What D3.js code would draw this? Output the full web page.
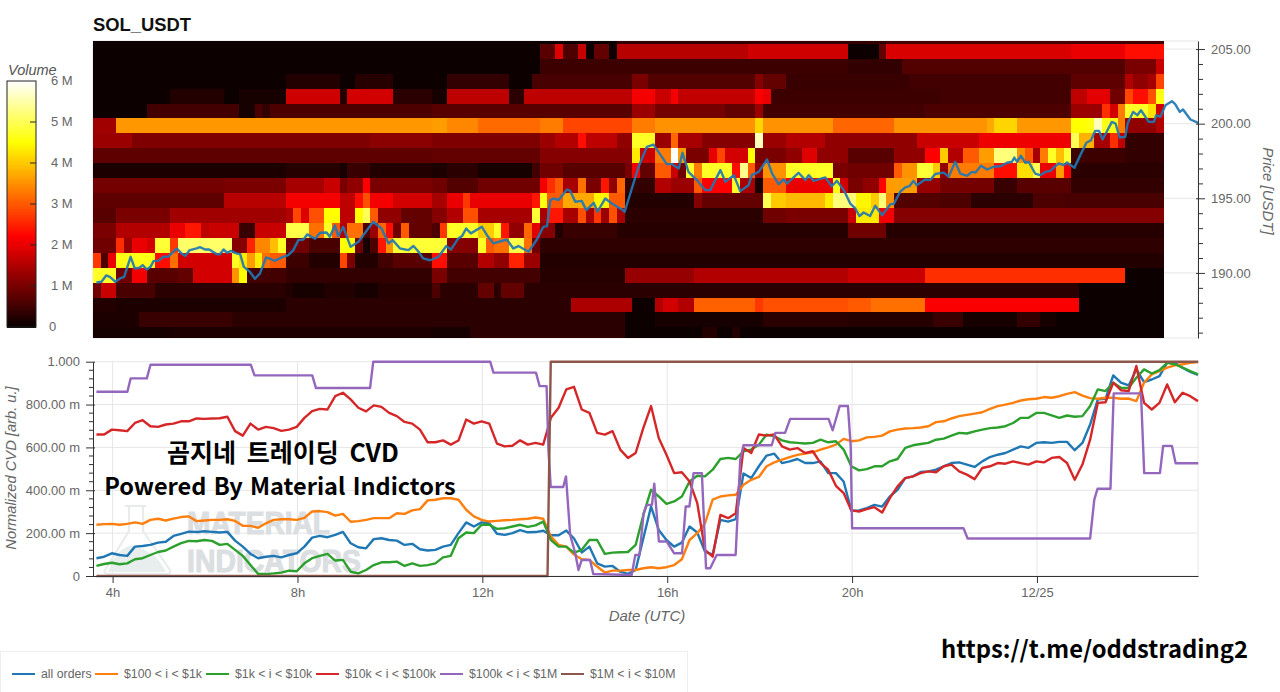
<!DOCTYPE html>
<html>
<head>
<meta charset="utf-8">
<script src="https://cdn.jsdelivr.net/npm/d3@7"></script>
<style>
  html, body { margin: 0; padding: 0; background: #fff; }
  svg { display: block; }
  text { font-family: "Liberation Sans", Arial, sans-serif; }
</style>
</head>
<body>
<svg id="chart" width="1280" height="692"></svg>
<script>
// Volume heatmap: one list per price bin, top to bottom, each as [columns, volume in M]
const binBottoms = [205.35, 204.35, 203.35, 202.35, 201.35, 200.35, 199.35, 198.35, 197.35, 196.35, 195.35,
    194.35, 193.35, 192.35, 191.35, 190.35, 189.35, 188.35, 187.35, 186.35, 185.35];
const heatStartHour = 3.576;
const heatStepHours = 1 / 6;

const volTop = [[68,.04],[35,.35],[36,.5]];
const vol205 = [[58,.04],[2,.7],[1,1.9],[2,.6],[1,1.7],[1,.05],[2,.8],[1,.05],[17,1.55],[13,1.75],[4,.05],[1,.8],[24,1.85],[7,2.0],[5,2.3]];
const vol204 = [[58,.04],[40,.45],[7,.35],[29,.65],[4,1.0],[1,1.7]];
const vol203 = [[25,.04],[7,.2],[2,.05],[5,.25],[7,.05],[8,.35],[3,.05],[13,.55],[2,1.0],[14,.65],[1,1.1],[3,.8],[16,.4],[21,.5],[7,.75],[1,1.5],[2,1.2],[1,1.4],[1,2.8]];
const vol202 = [[10,.04],[7,.2],[2,.05],[6,.12],[7,1.75],[1,.2],[6,1.8],[5,.3],[2,.12],[8,1.6],[2,.3],[14,1.6],[3,2.1],[2,1.7],[1,2.1],[10,1.65],[1,2.15],[1,2.0],[22,.45],[17,.5],[2,1.6],[3,1.95],[2,.9],[1,2.8],[2,2.3],[1,2.9],[1,4.6]];
const vol201 = [[7,.04],[12,.5],[2,.1],[1,.55],[1,.35],[21,.6],[26,.7],[3,1.3],[9,.95],[4,.8],[1,1.3],[21,.5],[19,.6],[4,1.3],[1,2.6],[1,1.8],[1,3.3],[3,4.7],[1,4.2],[1,1.8]];
const vol200 = [[3,1.35],[41,3.55],[2,3.6],[4,3.4],[8,3.15],[3,3.3],[9,2.8],[3,3.3],[13,3.5],[1,4.1],[9,3.5],[8,3.1],[12,3.5],[1,3.7],[3,4.1],[7,3.55],[2,4.5],[1,4.6],[1,5.6],[2,4.6],[1,3.3],[4,1.2],[1,1.5]];
const vol199 = [[5,1.3],[31,1.05],[8,1.15],[14,1.05],[2,1.3],[3,1.5],[1,2.3],[4,1.6],[2,1.2],[3,4.7],[2,1.3],[1,3.1],[3,1.4],[7,1.1],[1,5.6],[3,1.3],[5,1.5],[3,1.2],[9,1.2],[8,1.7],[12,2.05],[1,5],[2,3.8],[2,1.4],[1,2.6],[1,1.6],[5,.35]];
const vol198 = [[44,.75],[14,.8],[12,1.1],[1,4.3],[2,1.7],[2,3.3],[1,6],[1,3.6],[3,1.0],[1,2.0],[1,2.8],[3,1.8],[1,4.5],[4,1.0],[2,1.2],[2,1.9],[4,1.2],[6,.7],[4,1.2],[2,2.2],[1,4.0],[2,1.5],[2,3.0],[2,3.6],[3,5.2],[1,3.5],[1,3.0],[1,1.4],[1,3.3],[1,4.7],[1,3.9],[1,4.8],[7,.45],[5,.35]];
const vol197 = [[25,.15],[7,.25],[1,.1],[3,.4],[8,.2],[2,.15],[4,.3],[7,.1],[1,.5],[3,.9],[8,.7],[1,1.0],[1,2.1],[2,.8],[2,3],[1,1.7],[1,.9],[1,4.7],[1,3.3],[4,4.7],[1,2.3],[1,5.3],[1,3],[1,1.2],[3,3.5],[6,4.7],[2,1.0],[6,.9],[1,3.0],[2,3.5],[2,4.8],[1,4.0],[1,1.2],[6,3.3],[3,2.3],[2,4.2],[1,5],[2,2.0],[1,3.6],[1,2.1],[12,.3]];
const vol196 = [[17,.95],[8,1.0],[5,1.4],[2,1.7],[1,1.0],[2,1.2],[1,2.2],[8,1.0],[2,.9],[4,.65],[8,.9],[1,2.1],[1,2.6],[1,3.0],[2,1.4],[1,3.2],[2,1.0],[1,2.4],[1,1.2],[1,3.1],[4,.35],[2,1.5],[3,1.3],[1,3.0],[4,2.2],[1,4.7],[2,1.4],[1,.1],[3,3.0],[6,2.0],[1,4.6],[1,1.8],[2,1.0],[2,1.2],[1,2.2],[4,3.6],[3,1.25],[7,.95],[3,.4],[7,.7],[12,.35]];
const vol195 = [[17,.75],[8,1.55],[7,2.1],[2,1.6],[1,2.3],[1,2.9],[3,2.1],[5,1.8],[2,1.4],[2,2.0],[1,2.7],[8,2.0],[1,2.4],[1,4.6],[2,3.0],[4,3.7],[2,4.4],[2,3.0],[9,.2],[1,1.1],[8,.8],[1,5.0],[2,4.0],[5,3.85],[1,4.3],[3,5.2],[2,4.4],[1,4.0],[1,5.2],[1,3.5],[6,.65],[4,.6],[8,.3],[4,.6],[13,.55]];
const vol194 = [[3,.7],[7,1.0],[15,1.35],[1,1.5],[1,2.8],[1,1.9],[2,2.9],[2,4.5],[2,1.6],[1,4.5],[1,5],[1,3],[3,1.2],[4,.8],[2,1.1],[2,1.5],[2,2.9],[7,1.4],[1,4.8],[1,1.4],[2,2.4],[2,1.4],[1,2.9],[1,1.4],[1,2.7],[1,1.3],[1,2.9],[1,1.4],[18,.3],[3,.9],[8,1.0],[1,1.7],[3,4.3],[2,2.1],[35,1.1]];
const vol193 = [[3,1.0],[7,1.5],[2,2.0],[2,2.4],[1,1.6],[4,1.7],[2,.4],[4,1.7],[3,4.9],[2,3.2],[1,4.7],[1,3],[1,1.5],[2,3.2],[1,.6],[1,1.3],[1,3.1],[1,2.3],[1,.9],[1,3],[3,.8],[1,.6],[1,2.7],[4,4.7],[2,4.0],[1,4.7],[1,2.4],[2,1.2],[1,3.1],[1,1.9],[2,1.1],[1,.2],[7,.4],[30,.25],[5,.9],[36,.25]];
const vol192 = [[3,.9],[1,2.6],[1,1.3],[2,2.0],[1,1.8],[2,4.8],[1,2.7],[7,5.1],[2,1.1],[1,2.5],[2,3.4],[1,3.9],[1,4.7],[3,.9],[4,.55],[2,4.5],[1,.9],[1,.1],[1,.6],[1,2.4],[1,3.5],[7,4.8],[4,1.1],[1,4.7],[1,3.0],[2,3.2],[2,4.9],[1,3.2],[1,.9],[81,.33]];
const vol191 = [[1,2.7],[1,.6],[1,2.0],[5,4.6],[2,2.3],[1,3.2],[7,1.8],[1,4.7],[1,4.3],[1,3.6],[1,4.3],[1,3.2],[2,3.0],[3,.45],[4,.2],[1,2.8],[1,1.0],[3,.2],[2,.5],[5,.7],[2,2.3],[4,.7],[2,1.5],[2,1.2],[2,2.5],[2,1.3],[81,.22]];
const vol190 = [[3,4.7],[2,.9],[2,2.1],[4,.7],[2,.8],[5,1.8],[1,3.5],[1,4.5],[5,.5],[19,.35],[2,1.0],[12,.5],[11,.25],[9,1.25],[20,1.5],[10,1.7],[26,2.6],[5,.05]];
const vol189 = [[1,.9],[2,1.7],[5,.55],[17,.28],[1,.2],[4,.08],[4,.2],[3,.08],[7,.25],[1,.6],[5,.3],[2,.8],[1,.3],[3,.8],[72,.3],[11,.05]];
const vol188 = [[3,.2],[22,.15],[19,.3],[18,.3],[8,1.45],[3,.05],[1,1.5],[2,1.8],[2,1.5],[8,3.05],[1,2.7],[11,2.9],[3,3.0],[7,3.2],[20,2.15],[11,.05]];
const vol187 = [[6,.15],[12,.4],[26,.3],[25,.3],[4,.05],[14,.1],[11,.28],[11,.25],[4,.4],[7,.1],[3,.35],[2,.1],[14,.05]];
const vol186 = [[10,.08],[34,.14],[5,.08],[20,.28],[10,.05],[2,.2],[2,.05],[1,.2],[55,.05]];

// Price line
const priceHours = [3.65,3.76,3.86,3.94,4.06,4.16,4.25,4.39,4.48,4.58,4.65,4.74,4.82,4.89,4.99,5.10,5.20,5.29,5.39,5.49,5.57,5.67,5.82,5.89,6.00,6.09,6.25,6.32,6.40,6.48,6.56,6.68,6.76,6.84,6.97,7.08,7.19,7.32,7.44,7.51,7.66,7.80,7.91,8.02,8.13,8.21,8.38,8.49,8.63,8.70,8.81,8.88,8.99,9.15,9.32,9.64,9.82,9.97,10.06,10.22,10.40,10.51,10.62,10.72,10.87,
    11.05,11.22,11.32,11.48,11.56,11.65,11.75,11.99,12.10,12.24,12.53,12.67,12.78,13.00,13.18,13.32,13.40,13.47,13.54,13.65,13.83,13.90,14.01,14.15,14.25,14.41,14.49,14.66,14.80,15.02,15.08,15.20,15.38,15.56,15.70,15.81,15.99,16.10,16.25,16.33,16.46,16.64,16.82,16.93,17.15,17.26,17.44,17.58,17.76,17.83,17.98,18.16,18.27,18.41,18.52,18.59,18.84,18.99,19.06,19.17,19.42,19.56,19.67,19.82,19.96,
    20.07,20.16,20.25,20.39,20.50,20.65,20.83,20.90,21.04,21.15,21.24,21.33,21.40,21.58,21.69,21.80,21.98,22.09,22.23,22.34,22.49,22.59,22.67,22.79,22.92,23.06,23.21,23.35,23.46,23.51,23.57,23.65,23.75,23.82,23.96,24.07,24.18,24.29,24.38,24.47,24.58,24.65,24.81,24.94,25.07,25.17,25.26,25.34,25.42,25.62,25.70,25.79,25.91,25.96,26.08,26.17,26.25,26.42,26.53,26.58,26.67,26.78,26.92,26.99,27.09,27.16,27.32,27.49];
const priceValues = [189.36,189.41,189.83,189.74,189.41,189.63,189.74,191.08,190.30,190.35,190.52,190.23,190.41,190.81,190.81,191.08,191.08,191.35,191.64,191.31,191.13,191.53,191.64,191.73,191.57,191.57,191.26,191.24,191.57,191.35,191.48,191.31,191.26,190.41,190.08,189.61,189.97,191.04,190.90,190.81,191.04,191.19,191.53,192.20,192.24,192.58,192.29,192.69,192.71,192.42,193.18,192.47,193.09,191.75,192.09,193.43,192.98,191.97,192.20,191.64,191.53,191.80,191.42,190.97,190.85,
    191.08,191.80,191.57,192.31,192.47,192.98,192.65,193.09,192.53,191.98,192.24,191.64,191.80,191.42,192.24,193.09,193.14,194.88,194.99,194.88,195.59,195.50,194.77,194.83,194.21,194.70,194.10,194.99,194.65,194.25,194.10,195.32,197.11,198.45,198.60,198.11,197.29,197.29,197.00,198.05,196.77,196.22,195.55,195.55,196.89,196.10,196.55,195.48,195.88,196.55,196.77,197.60,196.66,195.95,196.26,195.99,196.71,196.22,196.55,196.17,196.40,195.81,196.17,195.55,194.65,
    194.32,193.81,194.05,193.81,194.50,193.87,194.61,194.61,195.44,195.73,195.81,196.17,195.88,196.26,196.22,196.63,196.72,196.45,197.45,196.66,196.51,196.77,196.73,197.18,196.93,197.11,197.15,197.38,197.45,197.73,197.45,197.85,197.38,197.45,196.66,196.55,196.77,196.84,197.11,197.34,197.22,197.40,197.05,197.91,198.72,198.89,199.52,199.52,198.94,200.12,200.01,199.07,199.12,200.01,200.79,200.57,200.90,200.12,200.12,200.57,200.46,201.24,201.51,201.31,200.79,200.95,200.28,200.06];

// Normalized CVD, one value every 10 minutes from 3.65h
const cvdStartHour = 3.65;
const cvdAllOrders = [.083,.09,.106,.098,.094,.137,.14,.145,.156,.16,.187,.197,.207,.205,.209,.206,.203,.206,.165,.137,.103,.083,.09,.094,.087,.098,.106,.137,.179,.187,.181,.192,.206,.153,.134,.129,.172,.176,.168,.165,.145,.15,.125,.119,
    .122,.137,.145,.2,.25,.231,.25,.246,.197,.192,.2,.214,.204,.205,.211,.19,.19,.212,.175,.11,.137,.059,.044,.047,.02,.01,.028,.176,.324,.215,.168,.137,.156,.231,.203,.114,.1,.262,.254,.265,.478,.457,.512,.562,.571,.527,.535,.546,.527,.527,.535,.48,.48,.441,
    .305,.306,.317,.332,.324,.371,.402,.457,.465,.485,.488,.496,.512,.527,.53,.52,.509,.535,.555,.566,.574,.59,.605,.598,.621,.624,.621,.626,.626,.587,.621,.707,.824,.827,.936,.902,.889,.964,.905,.917,.933,.995,.995,.972,.952,.939];
const cvd100to1k = [.239,.242,.243,.239,.243,.25,.243,.262,.267,.259,.268,.275,.278,.256,.259,.262,.262,.265,.257,.234,.234,.225,.246,.262,.265,.265,.262,.271,.301,.303,.298,.282,.29,.253,.256,.262,.27,.27,.27,.293,.29,.306,.312,.353,
    .356,.363,.363,.356,.309,.278,.262,.254,.257,.26,.262,.265,.267,.273,.267,.184,.145,.137,.1,.078,.075,.044,.016,.025,.025,.028,.028,.036,.041,.036,.041,.051,.078,.168,.2,.246,.356,.371,.376,.379,.426,.449,.462,.512,.53,.543,.555,.565,.571,.577,.59,.6,.613,.64,
    .629,.633,.647,.649,.655,.675,.683,.688,.69,.693,.699,.718,.722,.735,.746,.752,.758,.764,.78,.793,.8,.808,.819,.825,.827,.835,.832,.839,.85,.858,.842,.83,.827,.832,.832,.827,.828,.816,.902,.941,.956,.972,.983,.988,.995,.998];
const cvd1kto10k = [.047,.056,.062,.055,.059,.078,.083,.098,.112,.119,.137,.153,.164,.162,.168,.164,.145,.15,.122,.094,.051,.009,.009,.012,.016,.025,.022,.059,.083,.094,.103,.072,.075,.02,.012,.028,.051,.064,.064,.067,.047,.059,.047,.051,
    .059,.087,.094,.176,.203,.2,.239,.239,.22,.223,.231,.239,.229,.236,.254,.168,.137,.137,.109,.122,.168,.168,.103,.109,.111,.112,.145,.285,.402,.371,.337,.348,.371,.441,.468,.465,.496,.546,.551,.546,.582,.59,.613,.66,.652,.633,.624,.621,.618,.621,.636,.624,.629,.59,
    .512,.493,.499,.512,.512,.535,.546,.598,.61,.616,.621,.636,.641,.655,.668,.665,.675,.683,.69,.693,.699,.714,.738,.738,.761,.761,.75,.738,.749,.743,.746,.793,.871,.863,.902,.878,.878,.925,.964,.945,.961,.995,.988,.972,.956,.941];
const cvd10kto100k = [.66,.66,.683,.68,.676,.714,.727,.699,.696,.707,.711,.722,.722,.735,.733,.735,.736,.743,.676,.655,.711,.683,.696,.69,.677,.683,.696,.738,.769,.78,.777,.839,.855,.824,.785,.768,.796,.789,.761,.746,.719,.711,.683,.624,
    .624,.633,.613,.632,.73,.711,.722,.711,.618,.605,.608,.633,.613,.621,.613,.738,.785,.871,.883,.777,.761,.668,.66,.676,.59,.551,.574,.691,.793,.644,.566,.48,.484,.441,.34,.122,.09,.285,.27,.293,.597,.574,.66,.655,.66,.605,.59,.597,.574,.582,.527,.496,.421,.387,
    .306,.301,.312,.321,.296,.363,.418,.457,.465,.48,.488,.484,.512,.52,.488,.473,.452,.504,.512,.527,.524,.535,.527,.52,.535,.53,.551,.555,.527,.449,.52,.636,.808,.811,.902,.867,.863,.98,.808,.777,.808,.894,.811,.855,.839,.816];
const cvd100kto1MHours = [3.65,4.32,4.39,4.74,4.82,6.99,7.07,8.32,8.40,9.57,9.64,12.17,12.24,13.16,13.24,13.39,13.43,13.48,13.75,13.81,13.90,14.01,14.08,14.15,14.33,14.40,15.23,15.31,15.40,15.49,15.56,15.67,15.72,15.82,15.99,16.15,16.32,16.40,16.48,16.57,16.75,16.84,16.93,17.07,17.48,17.58,17.65,18.26,18.34,18.55,18.66,19.49,19.58,19.73,19.91,19.97,20.00,22.41,22.50,25.15,25.24,25.31,25.59,25.66,26.25,26.32,26.66,26.73,26.92,27.00,27.49];
const cvd100kto1M = [.86,.86,.922,.922,.986,.986,.936,.936,.877,.877,1,1,.949,.949,.886,.886,.59,.415,.415,.465,.192,.106,.028,.075,.075,.009,.005,.098,.098,.293,.332,.332,.431,.161,.161,.106,.106,.324,.324,.48,.48,.036,.036,.098,.098,.543,.61,.61,.668,.668,.733,.733,.68,.793,.793,.605,.223,.223,.175,.175,.356,.407,.407,.852,.852,.48,.48,.607,.607,.526,.526];
const cvd1Mto10MHours = [3.65,13.41,13.48,27.49];
const cvd1Mto10M = [0,0,1,1];

const legendNames = ['all orders', '$100 < i < $1k', '$1k < i < $10k', '$10k < i < $100k', '$100k < i < $1M', '$1M < i < $10M'];
const seriesColors = ['#1f77b4', '#ff7f0e', '#2ca02c', '#d62728', '#9467bd', '#8c564b'];

// Ticks
const priceMajorTicks = [190, 195, 200, 205];
const priceMinorTicks = [186, 187, 188, 189, 190, 191, 192, 193, 194, 195, 196, 197, 198, 199, 200, 201, 202, 203, 204, 205];
const cvdTicks = [0, .2, .4, .6, .8, 1];
const cvdTickLabels = ['0', '200.00 m', '400.00 m', '600.00 m', '800.00 m', '1.000'];
const cvdMinorTicks = [.04, .08, .12, .16, .24, .28, .32, .36, .44, .48, .52, .56, .64, .68, .72, .76, .84, .88, .92, .96];
const timeTicks = [4, 8, 12, 16, 20, 24];
const timeTickLabels = ['4h', '8h', '12h', '16h', '20h', '12/25'];
const volumeTicks = [0, 1, 2, 3, 4, 5, 6];
const volumeTickLabels = ['0', '1 M', '2 M', '3 M', '4 M', '5 M', '6 M'];

const svg = d3.select('#chart');
const textColor = '#666';
const gridColor = '#e6e6e6';

const plotLeft = 93, plotRight = 1198;
const x = d3.scaleLinear().domain([3.576, 27.484]).range([plotLeft, plotRight]);
const yPrice = d3.scaleLinear().domain([185.64, 205.54]).range([338, 41]);
const yCvd = d3.scaleLinear().domain([0, 1]).range([576, 361.7]);
const yVolume = d3.scaleLinear().domain([0, 6]).range([327, 81]);

// matplotlib style "hot" ramp
const hot = d3.scaleLinear()
    .domain([0, 2.19, 4.48, 6])
    .range(['#0a0000', '#ff0000', '#ffff00', '#ffffff'])
    .clamp(true);

const drawHeatmap = () => {
    const rows = [volTop, vol205, vol204, vol203, vol202, vol201, vol200, vol199, vol198, vol197, vol196, vol195,
        vol194, vol193, vol192, vol191, vol190, vol189, vol188, vol187, vol186];
    const cells = [];
    rows.forEach((runs, r) => {
        let col = 0;
        runs.forEach(([count, value]) => {
            cells.push({ bin: binBottoms[r], col, count, value });
            col += count;
        });
    });

    // the reference is a soft screenshot, so take the hard edge off the cells
    const defs = svg.append('defs');
    defs.append('filter').attr('id', 'soften')
        .attr('x', 0).attr('y', 0).attr('width', 1).attr('height', 1)
        .append('feGaussianBlur').attr('stdDeviation', 0.45);
    defs.append('clipPath').attr('id', 'top-clip')
        .append('rect').attr('x', plotLeft).attr('y', 41).attr('width', plotRight - plotLeft).attr('height', 297);

    svg.append('g')
        .attr('clip-path', 'url(#top-clip)')
        .append('g')
        .attr('filter', 'url(#soften)')
        .attr('shape-rendering', 'crispEdges')
        .selectAll('rect')
        .data(cells)
        .join('rect')
        .attr('x', d => x(heatStartHour + d.col * heatStepHours))
        .attr('width', d => x(heatStartHour + (d.col + d.count) * heatStepHours) - x(heatStartHour + d.col * heatStepHours) + 0.3)
        .attr('y', d => yPrice(d.bin + 1))
        .attr('height', d => yPrice(d.bin) - yPrice(d.bin + 1) + 0.3)
        .attr('fill', d => hot(d.value));
};

const drawPricePanel = () => {
    // light frame and grid, only visible right of the heatmap
    svg.append('g').selectAll('line')
        .data(priceMajorTicks)
        .join('line')
        .attr('x1', plotLeft).attr('x2', plotRight)
        .attr('y1', d => yPrice(d)).attr('y2', d => yPrice(d))
        .attr('stroke', gridColor);
    svg.append('rect')
        .attr('x', plotLeft).attr('y', 41).attr('width', plotRight - plotLeft).attr('height', 297)
        .attr('fill', 'none').attr('stroke', gridColor);

    drawHeatmap();

    const line = d3.line().x((d, i) => x(priceHours[i])).y(d => yPrice(d));
    svg.append('path')
        .datum(priceValues)
        .attr('d', line)
        .attr('fill', 'none')
        .attr('stroke', seriesColors[0])
        .attr('stroke-width', 2.4)
        .attr('stroke-opacity', 0.92)
        .attr('stroke-linejoin', 'round');

    const axis = svg.append('g')
        .attr('transform', `translate(${plotRight},0)`)
        .call(d3.axisRight(yPrice).tickValues(priceMinorTicks).tickSize(5).tickSizeOuter(0)
            .tickFormat(d => priceMajorTicks.includes(d) ? d.toFixed(2) : ''));
    axis.select('.domain').attr('stroke', '#333');
    axis.selectAll('.tick line').attr('stroke', '#333');
    axis.selectAll('.tick line')
        .filter(d => priceMajorTicks.includes(d))
        .attr('x1', -2).attr('x2', 7);
    axis.selectAll('.tick text')
        .attr('x', 13).attr('fill', textColor)
        .style('font-size', '13px').style('font-family', '"Liberation Sans", Arial, sans-serif');

    svg.append('text')
        .attr('transform', 'translate(1263,191) rotate(90)')
        .attr('text-anchor', 'middle')
        .attr('fill', textColor)
        .style('font-size', '15px').style('font-style', 'italic')
        .text('Price [USDT]');

    svg.append('text')
        .attr('x', 93).attr('y', 31)
        .attr('fill', '#111')
        .style('font-size', '18.4px').style('font-weight', 'bold')
        .text('SOL_USDT');
};

const drawColorbar = () => {
    const steps = d3.range(0, 6.001, 0.05);
    svg.append('g')
        .attr('shape-rendering', 'crispEdges')
        .selectAll('rect')
        .data(steps)
        .join('rect')
        .attr('x', 7).attr('width', 29)
        .attr('y', d => yVolume(d + 0.05))
        .attr('height', d => yVolume(d) - yVolume(d + 0.05) + 0.5)
        .attr('fill', d => hot(d));
    svg.append('rect')
        .attr('x', 7).attr('y', 81).attr('width', 29).attr('height', 246)
        .attr('fill', 'none').attr('stroke', '#222');

    svg.append('g').selectAll('line')
        .data(volumeTicks.slice(1, 6))
        .join('line')
        .attr('x1', 30).attr('x2', 36)
        .attr('y1', d => yVolume(d)).attr('y2', d => yVolume(d))
        .attr('stroke', '#222');

    svg.append('g').selectAll('text')
        .data(volumeTicks)
        .join('text')
        .attr('x', d => d === 0 ? 49 : 51)
        .attr('y', d => yVolume(d) - 1)
        .attr('dy', '0.35em')
        .attr('fill', textColor)
        .style('font-size', '13px')
        .text((d, i) => volumeTickLabels[i]);

    svg.append('text')
        .attr('x', 8).attr('y', 75)
        .attr('fill', '#555')
        .style('font-size', '14.5px').style('font-style', 'italic')
        .text('Volume');
};

const drawWatermark = () => {
    const mark = svg.append('g');
    mark.append('path')
        .attr('d', 'M125,506 L146,506 M129,506 L129,531 L105,570 Q103,574 109,574 L166,574 Q172,574 170,570 L143,531 L143,506')
        .attr('fill', 'none').attr('stroke', '#e8ebec').attr('stroke-width', 2);
    mark.append('path')
        .attr('d', 'M112,562 Q125,540 140,548 Q152,552 160,562 L166,572 L108,572 Z')
        .attr('fill', '#e8eded');
    mark.selectAll('text')
        .data([{ t: 'MATERIAL', y: 534, len: 143 }, { t: 'INDICATORS', y: 572, len: 174 }])
        .join('text')
        .attr('x', 187).attr('y', d => d.y)
        .attr('fill', '#dcdfe2').attr('stroke', '#dcdfe2').attr('stroke-width', 1.2)
        .style('font-size', '32px').style('font-weight', 'bold')
        .attr('textLength', d => d.len).attr('lengthAdjust', 'spacingAndGlyphs')
        .text(d => d.t);
};

const drawCvdPanel = () => {
    const grid = svg.append('g').attr('stroke', gridColor);
    grid.selectAll('.gy')
        .data(cvdTicks)
        .join('line')
        .attr('class', 'gy')
        .attr('x1', plotLeft).attr('x2', plotRight)
        .attr('y1', d => yCvd(d)).attr('y2', d => yCvd(d));
    grid.selectAll('.gx')
        .data(timeTicks)
        .join('line')
        .attr('class', 'gx')
        .attr('y1', 361).attr('y2', 576)
        .attr('x1', d => x(d)).attr('x2', d => x(d));
    grid.append('line').attr('x1', plotRight).attr('x2', plotRight).attr('y1', 361).attr('y2', 576);

    drawWatermark();

    const gridHours = d3.range(cvdAllOrders.length).map(i => cvdStartHour + i / 6);
    const series = [
        { hours: gridHours, values: cvdAllOrders },
        { hours: gridHours, values: cvd100to1k },
        { hours: gridHours, values: cvd1kto10k },
        { hours: gridHours, values: cvd10kto100k },
        { hours: cvd100kto1MHours, values: cvd100kto1M },
        { hours: cvd1Mto10MHours, values: cvd1Mto10M }
    ];
    series.forEach((s, k) => {
        const line = d3.line().x((d, i) => x(s.hours[i])).y(d => yCvd(d));
        svg.append('path')
            .datum(s.values)
            .attr('d', line)
            .attr('fill', 'none')
            .attr('stroke', seriesColors[k])
            .attr('stroke-width', 2.4)
            .attr('stroke-linejoin', 'round');
    });

    const yAxis = svg.append('g')
        .attr('transform', `translate(${plotLeft},0)`)
        .call(d3.axisLeft(yCvd).tickValues(cvdTicks).tickSize(7).tickSizeOuter(0)
            .tickFormat((d, i) => cvdTickLabels[i]));
    yAxis.select('.domain').attr('stroke', '#333');
    yAxis.selectAll('.tick line').attr('stroke', '#333').attr('x2', -7).attr('x1', 2);
    yAxis.selectAll('.tick text')
        .attr('x', -13).attr('fill', textColor)
        .style('font-size', '13px').style('font-family', '"Liberation Sans", Arial, sans-serif');
    svg.append('g').selectAll('line')
        .data(cvdMinorTicks)
        .join('line')
        .attr('x1', plotLeft - 4).attr('x2', plotLeft)
        .attr('y1', d => yCvd(d)).attr('y2', d => yCvd(d))
        .attr('stroke', '#333');

    const xAxis = svg.append('g')
        .attr('transform', 'translate(0,576)')
        .call(d3.axisBottom(x).tickValues(timeTicks).tickSize(7).tickSizeOuter(0)
            .tickFormat((d, i) => timeTickLabels[i]));
    xAxis.select('.domain').attr('stroke', '#333');
    xAxis.selectAll('.tick line').attr('stroke', '#333');
    xAxis.selectAll('.tick text')
        .attr('y', 12).attr('fill', textColor)
        .style('font-size', '13px').style('font-family', '"Liberation Sans", Arial, sans-serif');

    svg.append('text')
        .attr('transform', 'translate(16,468) rotate(-90)')
        .attr('text-anchor', 'middle')
        .attr('fill', textColor)
        .style('font-size', '14.7px').style('font-style', 'italic')
        .text('Normalized CVD [arb. u.]');

    svg.append('text')
        .attr('x', 647).attr('y', 621)
        .attr('text-anchor', 'middle')
        .attr('fill', textColor)
        .style('font-size', '15px').style('font-style', 'italic')
        .text('Date (UTC)');
};

const drawLegend = () => {
    svg.append('rect')
        .attr('x', 0.5).attr('y', 651.5).attr('width', 687).attr('height', 42)
        .attr('fill', '#fff').attr('stroke', '#eee');
    const lineStarts = [12, 95, 206, 316, 440, 561];
    legendNames.forEach((name, i) => {
        svg.append('line')
            .attr('x1', lineStarts[i]).attr('x2', lineStarts[i] + 23)
            .attr('y1', 674).attr('y2', 674)
            .attr('stroke', seriesColors[i]).attr('stroke-width', 2);
        svg.append('text')
            .attr('x', lineStarts[i] + 29).attr('y', 678)
            .attr('fill', textColor)
            .style('font-size', '12.3px')
            .text(name);
    });
};

const drawOverlayText = () => {
    const overlay = [
        { t: '곰지네 트레이딩 CVD', x: 283, y: 462, size: 25, gap: 5 },
        { t: 'Powered By Material Indictors', x: 280, y: 495, size: 23.5, gap: 2 },
        { t: 'https://t.me/oddstrading2', x: 1094.5, y: 658, size: 23.75, gap: 0 }
    ];
    svg.append('g').selectAll('text')
        .data(overlay)
        .join('text')
        .attr('x', d => d.x).attr('y', d => d.y)
        .attr('text-anchor', 'middle')
        .attr('fill', '#000')
        .style('font-family', '"Noto Sans CJK KR", "Noto Sans", sans-serif')
        .style('font-weight', 'bold')
        .style('font-size', d => d.size + 'px')
        .style('word-spacing', d => d.gap + 'px')
        .text(d => d.t);
};

drawPricePanel();
drawColorbar();
drawCvdPanel();
drawLegend();
drawOverlayText();
</script>
</body>
</html>
